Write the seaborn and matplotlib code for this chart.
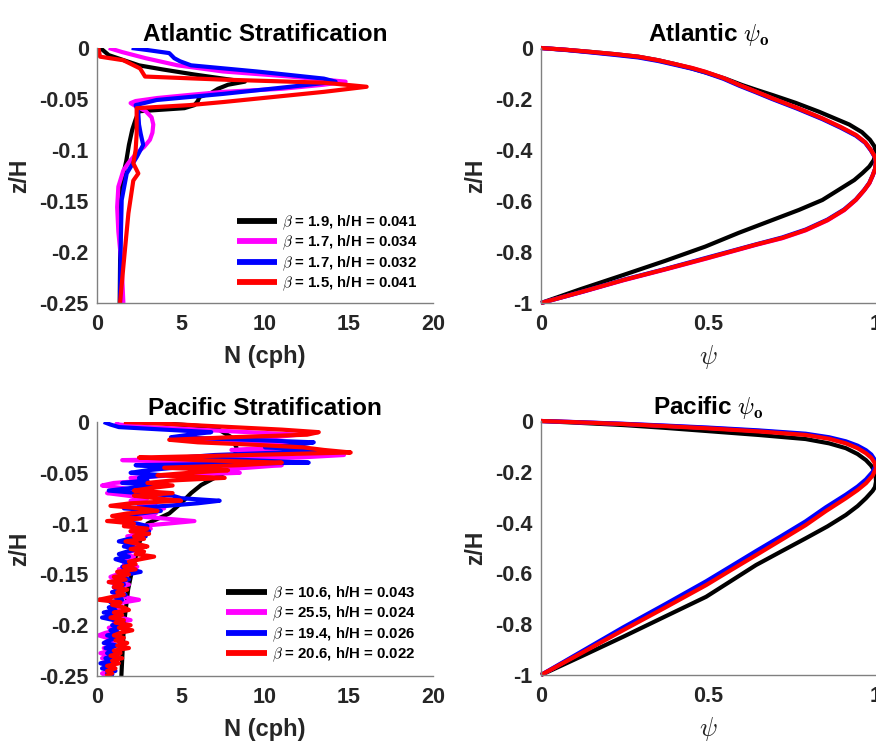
import numpy as np
import matplotlib
matplotlib.use('Agg')
import matplotlib.pyplot as plt
import seaborn as sns

# ---------------- data ----------------
series_colors = ['#000000', '#ff00ff', '#0000ff', '#ff0000']
atl_labels = [r'$\beta$ = 1.9, h/H = 0.041', r'$\beta$ = 1.7, h/H = 0.034',
              r'$\beta$ = 1.7, h/H = 0.032', r'$\beta$ = 1.5, h/H = 0.041']
pac_labels = [r'$\beta$ = 10.6, h/H = 0.043', r'$\beta$ = 25.5, h/H = 0.024',
              r'$\beta$ = 19.4, h/H = 0.026', r'$\beta$ = 20.6, h/H = 0.022']

# Atlantic stratification (z/H, N)
atl_black_z = [0, -0.007, -0.017, -0.021, -0.026, -0.030, -0.033, -0.036, -0.040, -0.044, -0.048, -0.052,
               -0.056, -0.059, -0.062, -0.070, -0.080, -0.095, -0.110, -0.125, -0.150, -0.200, -0.250]
atl_black_N = [0.2, 0.7, 2.5, 3.9, 5.8, 7.5, 8.8, 7.8, 7.2, 6.8, 6.1, 6.0,
               5.8, 5.2, 2.5, 2.3, 2.1, 1.9, 1.75, 1.55, 1.42, 1.38, 1.35]
atl_mag_z = [0, -0.004, -0.010, -0.017, -0.023, -0.028, -0.033, -0.036, -0.040, -0.043, -0.046, -0.049,
             -0.052, -0.054, -0.057, -0.062, -0.068, -0.075, -0.083, -0.090, -0.097, -0.103, -0.112,
             -0.120, -0.136, -0.156, -0.180, -0.214, -0.250]
atl_mag_N = [0.7, 1.5, 2.9, 4.8, 7.5, 11.5, 14.8, 13.5, 11.0, 7.5, 5.5, 3.6,
             2.3, 2.0, 2.3, 2.9, 3.25, 3.35, 3.3, 3.15, 2.8, 2.36, 1.9,
             1.57, 1.27, 1.2, 1.27, 1.47, 1.57]
atl_blue_z = [0, -0.002, -0.005, -0.010, -0.013, -0.017, -0.023, -0.030, -0.033, -0.038, -0.045, -0.051,
              -0.056, -0.062, -0.075, -0.084, -0.095, -0.107, -0.123, -0.149, -0.200, -0.250]
atl_blue_N = [2.06, 3.0, 4.3, 4.6, 4.94, 5.6, 9.5, 13.5, 14.2, 11.5, 7.5, 3.55,
              2.3, 2.45, 2.5, 2.6, 2.75, 2.36, 1.77, 1.47, 1.4, 1.37]
atl_red_z = [0, -0.0085, -0.012, -0.020, -0.028, -0.031, -0.034, -0.038, -0.043, -0.049, -0.053, -0.056,
             -0.059, -0.064, -0.084, -0.100, -0.113, -0.123, -0.130, -0.162, -0.214, -0.250]
atl_red_N = [0.08, 0.18, 1.57, 2.56, 2.86, 7.5, 13.5, 16.05, 13.5, 9.9, 7.5, 5.5,
             2.36, 2.36, 2.36, 2.3, 2.16, 2.46, 2.16, 1.87, 1.57, 1.37]

# Pacific stratification: noisy profiles on 0.0025 z/H levels
pac_levels = np.round(-0.0025 * np.arange(101), 4)
pac_mag_N = [1.1, 1.3, 3.0, 6.0, 9.0, 12.0, 10.5, 6.0, 9.0, 11.5,
             10.7, 8.0, 11.0, 14.7, 12.0, 1.5, 6.0, 11.0, 9.0, 6.5,
             8.5, 4.5, 2.0, 3.0, 1.0, 0.3, 1.5, 2.5, 0.6, 1.8,
             3.0, 2.0, 3.5, 2.5, 4.0, 2.8, 3.5, 2.2, 4.0, 5.8,
             4.2, 2.5, 3.2, 2.0, 2.8, 1.8, 2.6, 1.5, 2.3, 1.8,
             2.6, 2.0, 1.5, 2.2, 1.4, 2.0, 1.6, 2.4, 1.3, 1.9,
             1.2, 0.8, 1.6, 0.7, 1.9, 1.0, 1.4, 0.9, 1.3, 1.7,
             2.5, 1.6, 1.0, 1.5, 0.8, 1.3, 0.9, 1.4, 2.0, 1.0,
             1.4, 0.7, 1.2, 0.5, 0.1, 0.6, 1.1, 0.6, 1.0, 0.4,
             0.8, 0.2, 0.7, 0.3, 0.9, 0.5, 1.0, 0.4, 0.7, 0.3, 0.6]
pac_blue_N = [0.4, 0.8, 1.3, 4.0, 6.8, 5.5, 4.4, 9.0, 12.9, 12.0,
              10.0, 13.1, 11.0, 7.0, 5.0, 9.0, 12.6, 2.3, 4.6, 3.0,
              2.0, 4.0, 2.5, 3.0, 1.5, 4.2, 2.0, 0.7, 2.5, 4.5,
              5.0, 7.3, 6.0, 4.2, 1.6, 3.8, 2.6, 1.4, 2.0, 1.2,
              2.4, 3.0, 2.3, 3.1, 2.5, 2.9, 1.9, 1.3, 2.2, 1.6,
              2.5, 1.8, 1.3, 1.9, 1.1, 1.6, 2.2, 1.5, 2.0, 2.6,
              1.8, 1.3, 1.9, 1.1, 1.6, 1.0, 1.5, 0.9, 1.7, 1.1,
              1.5, 0.8, 1.3, 0.7, 1.1, 0.4, 1.2, 0.3, 1.0, 1.6,
              0.9, 1.4, 0.8, 1.3, 0.6, 1.2, 0.7, 0.4, 1.2, 0.5,
              1.0, 0.6, 1.1, 0.5, 0.9, 0.2, 0.8, 0.3, 1.1, 0.6, 1.0]
pac_red_N = [1.6, 5.0, 8.0, 11.0, 13.2, 12.5, 8.0, 4.3, 6.0, 9.5,
             12.3, 13.5, 15.1, 9.0, 2.5, 6.0, 11.0, 8.5, 4.0, 7.8,
             5.5, 3.6, 7.6, 4.5, 3.0, 4.5, 3.2, 2.2, 4.5, 2.2,
             3.5, 5.0, 2.0, 0.8, 2.6, 3.6, 1.8, 0.9, 2.6, 0.6,
             2.2, 1.6, 3.0, 2.0, 3.1, 2.2, 2.8, 1.7, 2.4, 3.0,
             2.0, 2.8, 2.3, 3.4, 2.6, 1.9, 2.3, 1.6, 2.3, 1.2,
             1.9, 1.0, 1.7, 0.7, 1.5, 1.0, 1.8, 1.2, 1.6, 0.8,
             0.1, 1.4, 0.9, 1.6, 1.9, 1.0, 1.5, 0.8, 1.6, 1.1,
             2.0, 1.3, 2.1, 1.4, 1.0, 1.6, 1.1, 1.8, 1.2, 1.9,
             1.0, 1.4, 0.8, 1.5, 0.9, 1.3, 0.6, 1.1, 0.6, 0.9, 0.5]
pac_black_z = [0, -0.002, -0.005, -0.015, -0.025, -0.035, -0.045, -0.050, -0.055, -0.062, -0.070,
               -0.080, -0.090, -0.100, -0.110, -0.120, -0.130, -0.145, -0.165, -0.200, -0.250]
pac_black_N = [3.5, 4.5, 7.0, 8.0, 8.3, 8.2, 8.0, 7.6, 7.0, 6.2, 5.6,
               5.0, 4.3, 3.0, 2.7, 2.5, 2.35, 2.1, 1.85, 1.6, 1.45]

# Atlantic psi_o (psi, z/H)
atl_psi_black = [0, 0.075, 0.146, 0.22, 0.29, 0.35, 0.40, 0.45, 0.50, 0.55, 0.60, 0.645, 0.69, 0.76, 0.83,
                 0.875, 0.92, 0.958, 0.982, 0.995, 1.0, 0.993, 0.98, 0.96, 0.935, 0.89, 0.84, 0.77, 0.69,
                 0.59, 0.49, 0.37, 0.246, 0.12, 0]
atl_psi_black_z = [0, -0.007, -0.015, -0.024, -0.034, -0.048, -0.063, -0.08, -0.099, -0.12, -0.145, -0.165,
                   -0.184, -0.215, -0.25, -0.275, -0.30, -0.33, -0.36, -0.385, -0.41, -0.44, -0.465, -0.49,
                   -0.518, -0.555, -0.596, -0.635, -0.675, -0.725, -0.779, -0.835, -0.89, -0.945, -1.0]
atl_psi_other = [0, 0.075, 0.146, 0.22, 0.29, 0.35, 0.40, 0.45, 0.49, 0.545, 0.592, 0.64, 0.69, 0.765, 0.84,
                 0.895, 0.94, 0.968, 0.985, 0.996, 1.0, 0.997, 0.99, 0.98, 0.965, 0.94, 0.905, 0.855, 0.79,
                 0.72, 0.642, 0.493, 0.37, 0.246, 0.125, 0]
atl_psi_mag_z = [0, -0.007, -0.016, -0.025, -0.035, -0.049, -0.064, -0.079, -0.094, -0.119, -0.146, -0.171,
                 -0.198, -0.236, -0.277, -0.311, -0.342, -0.371, -0.401, -0.426, -0.446, -0.476, -0.501,
                 -0.531, -0.558, -0.596, -0.636, -0.676, -0.715, -0.746, -0.772, -0.826, -0.869, -0.911,
                 -0.956, -1.0]
atl_psi_blue_z = [0, -0.008, -0.017, -0.027, -0.037, -0.051, -0.066, -0.081, -0.096, -0.121, -0.148, -0.173,
                  -0.2, -0.238, -0.279, -0.313, -0.344, -0.372, -0.402, -0.427, -0.447, -0.475, -0.5, -0.529,
                  -0.556, -0.594, -0.633, -0.673, -0.712, -0.743, -0.77, -0.823, -0.867, -0.909, -0.955, -1.0]
atl_psi_red_z = [0, -0.007, -0.015, -0.024, -0.034, -0.048, -0.063, -0.078, -0.093, -0.118, -0.145, -0.17,
                 -0.197, -0.235, -0.276, -0.31, -0.341, -0.37, -0.40, -0.425, -0.446, -0.475, -0.50, -0.53,
                 -0.557, -0.595, -0.635, -0.675, -0.714, -0.745, -0.771, -0.825, -0.868, -0.91, -0.955, -1.0]

# Pacific psi_o (psi, z/H)
pac_psi = [0, 0.11, 0.246, 0.37, 0.50, 0.65, 0.79, 0.86, 0.91, 0.945, 0.97, 0.986, 0.996, 1.0, 0.99,
           0.97, 0.945, 0.91, 0.85, 0.79, 0.715, 0.642, 0.567, 0.493, 0.37, 0.246, 0.123, 0]
pac_psi_black = [0, 0.11, 0.246, 0.37, 0.50, 0.65, 0.79, 0.86, 0.91, 0.945, 0.97, 0.985, 0.995, 0.999, 1.0,
                 0.997, 0.99, 0.97, 0.945, 0.91, 0.855, 0.79, 0.715, 0.642, 0.567, 0.493, 0.37, 0.246,
                 0.123, 0]
pac_psi_black_z = [0, -0.007, -0.016, -0.027, -0.04, -0.055, -0.071, -0.088, -0.107, -0.13, -0.154, -0.175,
                   -0.195, -0.215, -0.239, -0.26, -0.275, -0.304, -0.335, -0.37, -0.415, -0.462, -0.515,
                   -0.567, -0.63, -0.692, -0.77, -0.849, -0.925, -1.0]
pac_psi_mag_z = [0, -0.0048, -0.0115, -0.019, -0.0275, -0.039, -0.0525, -0.067, -0.084, -0.102, -0.121,
                 -0.139, -0.159, -0.18, -0.207, -0.237, -0.265, -0.297, -0.347, -0.402, -0.462, -0.52,
                 -0.58, -0.638, -0.728, -0.817, -0.909, -1.0]
pac_psi_blue_z = [0, -0.0045, -0.011, -0.018, -0.026, -0.037, -0.05, -0.064, -0.08, -0.097, -0.115, -0.132,
                  -0.152, -0.173, -0.2, -0.23, -0.258, -0.29, -0.34, -0.395, -0.455, -0.512, -0.572,
                  -0.631, -0.722, -0.812, -0.906, -1.0]
pac_psi_red_z = [0, -0.005, -0.012, -0.02, -0.029, -0.041, -0.055, -0.07, -0.088, -0.107, -0.127, -0.145,
                 -0.165, -0.186, -0.215, -0.245, -0.272, -0.304, -0.355, -0.41, -0.47, -0.528, -0.587,
                 -0.646, -0.735, -0.823, -0.912, -1.0]

n_ticks = [0, 5, 10, 15, 20]
n_ticklabels = ['0', '5', '10', '15', '20']
zs_ticks = [0, -0.05, -0.1, -0.15, -0.2, -0.25]
zs_ticklabels = ['0', '-0.05', '-0.1', '-0.15', '-0.2', '-0.25']
psi_ticks = [0, 0.5, 1]
psi_ticklabels = ['0', '0.5', '1']
zp_ticks = [0, -0.2, -0.4, -0.6, -0.8, -1]
zp_ticklabels = ['0', '-0.2', '-0.4', '-0.6', '-0.8', '-1']

# ---------------- style ----------------
sns.set_theme(style='white')
plt.rcParams['font.family'] = ['Liberation Sans', 'DejaVu Sans']
plt.rcParams['font.weight'] = 'bold'
plt.rcParams['axes.titleweight'] = 'bold'
plt.rcParams['axes.labelweight'] = 'bold'
plt.rcParams['mathtext.fontset'] = 'cm'

W, H = 876, 743
fig = plt.figure(figsize=(W / 100, H / 100), dpi=100)
fig.patch.set_facecolor('white')


def px_axes(left, top, right, bottom):
    return fig.add_axes([left / W, 1 - bottom / H, (right - left) / W, (bottom - top) / H])


ax_as = px_axes(97, 48, 433, 303)
ax_ap = px_axes(541, 48, 876, 303)
ax_ps = px_axes(97, 422, 433, 676)
ax_pp = px_axes(541, 421, 876, 675)

LW = 3.0
TICK_FS = 15.5
GREY = '#808080'
TXT = '#262626'


def style(ax, xt, xtl, yt, ytl, xlim, ylim):
    ax.set_xlim(*xlim)
    ax.set_ylim(*ylim)
    ax.set_xticks(xt)
    ax.set_xticklabels(xtl)
    ax.set_yticks(yt)
    ax.set_yticklabels(ytl)
    for s in ['top', 'right']:
        ax.spines[s].set_visible(False)
    for s in ['left', 'bottom']:
        ax.spines[s].set_color(GREY)
        ax.spines[s].set_linewidth(1.0)
    ax.tick_params(axis='both', direction='in', length=4, width=0.8, color=GREY,
                   labelcolor=TXT, labelsize=TICK_FS)
    ax.tick_params(axis='x', pad=8)
    ax.tick_params(axis='y', pad=6)
    for t in ax.get_xticklabels() + ax.get_yticklabels():
        t.set_fontweight('bold')
    ax.set_facecolor('white')


def draw(ax, xs, ys, labels=None, clip=True):
    for i, (x, y) in enumerate(zip(xs, ys)):
        sns.lineplot(x=list(x), y=list(y), ax=ax, sort=False, estimator=None,
                     color=series_colors[i], lw=LW,
                     label=(labels[i] if labels else None), legend=False)
    for ln in ax.get_lines():
        ln.set_clip_on(clip)
        ln.set_solid_capstyle('butt')
        ln.set_solid_joinstyle('round')


draw(ax_as, [atl_black_N, atl_mag_N, atl_blue_N, atl_red_N],
     [atl_black_z, atl_mag_z, atl_blue_z, atl_red_z], atl_labels)
draw(ax_ps, [pac_black_N, pac_mag_N, pac_blue_N, pac_red_N],
     [pac_black_z, pac_levels, pac_levels, pac_levels], pac_labels)
draw(ax_ap, [atl_psi_black, atl_psi_other, atl_psi_other, atl_psi_other],
     [atl_psi_black_z, atl_psi_mag_z, atl_psi_blue_z, atl_psi_red_z], clip=False)
draw(ax_pp, [pac_psi_black, pac_psi, pac_psi, pac_psi],
     [pac_psi_black_z, pac_psi_mag_z, pac_psi_blue_z, pac_psi_red_z], clip=False)

style(ax_as, n_ticks, n_ticklabels, zs_ticks, zs_ticklabels, (0, 20), (-0.25, 0))
style(ax_ps, n_ticks, n_ticklabels, zs_ticks, zs_ticklabels, (0, 20), (-0.25, 0))
style(ax_ap, psi_ticks, psi_ticklabels, zp_ticks, zp_ticklabels, (0, 1), (-1, 0))
style(ax_pp, psi_ticks, psi_ticklabels, zp_ticks, zp_ticklabels, (0, 1), (-1, 0))

for ax, t in [(ax_as, 'Atlantic Stratification'), (ax_ps, 'Pacific Stratification'),
              (ax_ap, r'Atlantic $\psi_{\mathbf{o}}$'), (ax_pp, r'Pacific $\psi_{\mathbf{o}}$')]:
    ax.set_title(t, fontsize=17.5, fontweight='bold', color='black', pad=5)

for ax in [ax_as, ax_ps]:
    ax.set_xlabel('N (cph)', fontsize=17, fontweight='bold', color=TXT, labelpad=7)
for ax in [ax_ap, ax_pp]:
    ax.set_xlabel(r'$\psi$', fontsize=19, color=TXT, labelpad=6)
for ax in [ax_as, ax_ps, ax_ap, ax_pp]:
    ax.set_ylabel('z/H', fontsize=16.5, fontweight='bold', color=TXT, labelpad=6)

for ax, anchor in [(ax_as, (0.955, 0.04)), (ax_ps, (0.948, 0.048))]:
    leg = ax.legend(loc='lower right', bbox_to_anchor=anchor, frameon=False,
                    prop={'size': 10.8, 'weight': 'bold'}, handlelength=2.7,
                    handletextpad=0.33, labelspacing=0.12, borderpad=0, borderaxespad=0)
    for ln in leg.get_lines():
        ln.set_linewidth(4.2)
    for t in leg.get_texts():
        t.set_color('black')

fig.savefig('out.png', dpi=100, facecolor='white')
